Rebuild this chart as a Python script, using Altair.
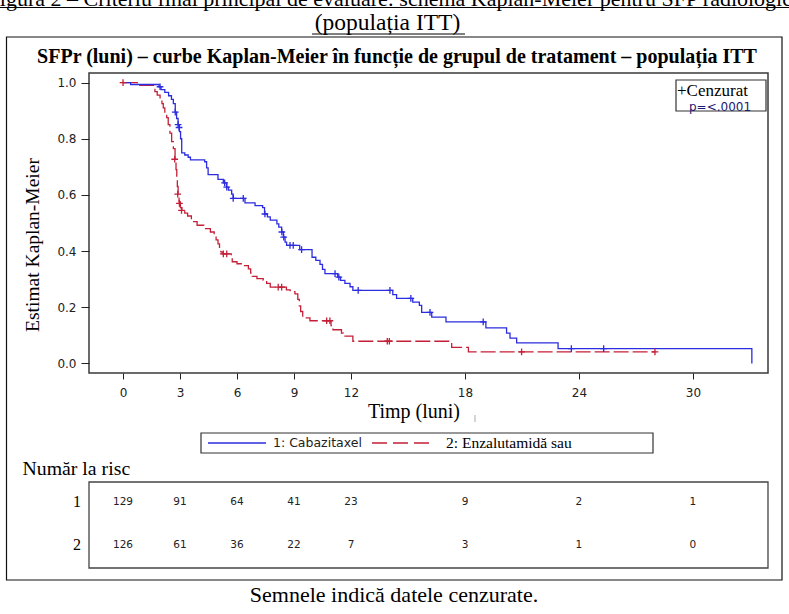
import altair as alt
import pandas as pd

# ---------------- data ----------------
blue_t = [0, 0.4, 1.9, 2.0, 2.2, 2.4, 2.55, 2.65, 2.75, 2.82, 2.9, 2.97, 3.03, 3.09, 3.25, 3.43, 3.55, 4.3, 4.4, 4.48,
          5.0, 5.28, 5.45, 5.55, 5.72, 5.8, 6.42, 6.95, 7.35, 7.45, 7.6, 7.75, 8.1, 8.2, 8.35, 8.44, 8.53, 8.61, 9.3, 9.95,
          10.15, 10.37, 10.5, 10.63, 11.3, 11.45, 11.68, 11.95, 12.1, 14.2, 14.4, 15.25, 15.6, 15.72, 16.25, 17.0, 19.1,
          20.19, 20.37, 20.72, 22.9, 33.1]
blue_s = [1.0, 0.993, 0.985, 0.975, 0.965, 0.953, 0.94, 0.925, 0.895, 0.872, 0.85, 0.825, 0.80, 0.75, 0.742, 0.734, 0.725,
          0.718, 0.696, 0.672, 0.655, 0.643, 0.628, 0.617, 0.603, 0.588, 0.572, 0.562, 0.555, 0.532, 0.522, 0.51, 0.497,
          0.485, 0.468, 0.45, 0.432, 0.42, 0.405, 0.378, 0.367, 0.353, 0.335, 0.32, 0.307, 0.296, 0.285, 0.273, 0.26,
          0.245, 0.232, 0.218, 0.207, 0.182, 0.165, 0.148, 0.127, 0.108, 0.09, 0.073, 0.053, 0.0]
blue_cens_t = [1.95, 2.75, 2.9, 2.95, 5.35, 5.46, 5.8, 6.33, 7.47, 8.36, 8.46, 8.79, 8.96, 9.4, 11.16, 11.36, 12.38,
               14.05, 15.15, 16.16, 18.96, 23.6, 25.3]
blue_cens_s = [0.985, 0.895, 0.85, 0.84, 0.643, 0.628, 0.588, 0.588, 0.532, 0.468, 0.45, 0.42, 0.42, 0.405, 0.32, 0.307,
               0.26, 0.26, 0.232, 0.182, 0.148, 0.053, 0.053]

red_t = [0, 0.85, 1.68, 1.8, 1.95, 2.05, 2.12, 2.2, 2.3, 2.38, 2.47, 2.56, 2.65, 2.74, 2.79, 2.83, 2.86, 2.9, 2.95, 3.02,
         3.1, 3.25, 3.4, 3.6, 3.9, 4.25, 4.6, 4.8, 4.9, 5.0, 5.08, 5.15, 5.22, 5.7, 5.75, 6.0, 6.35, 6.6, 6.72, 6.8,
         7.05, 7.38, 7.56, 7.75, 8.6, 8.8, 9.05, 9.2, 9.28, 9.35, 9.46, 9.84, 10.95, 11.05, 11.5, 11.6, 12.1, 17.3,
         18.18, 28.0]
red_s = [1.0, 0.99, 0.968, 0.955, 0.94, 0.925, 0.91, 0.895, 0.875, 0.85, 0.82, 0.79, 0.765, 0.725, 0.69, 0.66, 0.63,
         0.6, 0.575, 0.555, 0.542, 0.535, 0.525, 0.505, 0.492, 0.48, 0.468, 0.455, 0.44, 0.426, 0.41, 0.397, 0.39,
         0.375, 0.362, 0.355, 0.348, 0.337, 0.322, 0.31, 0.302, 0.296, 0.285, 0.272, 0.262, 0.256, 0.248, 0.228,
         0.205, 0.185, 0.162, 0.152, 0.135, 0.12, 0.108, 0.097, 0.079, 0.057, 0.041, 0.041]
red_cens_t = [0.0, 2.72, 2.88, 2.97, 3.08, 5.28, 5.46, 8.17, 8.35, 10.72, 10.89, 13.91, 14.02, 20.98, 28.0]
red_cens_s = [1.0, 0.727, 0.603, 0.57, 0.545, 0.39, 0.39, 0.272, 0.272, 0.152, 0.152, 0.079, 0.079, 0.041, 0.041]

risk_times = [0, 3, 6, 9, 12, 18, 24, 30]
risk_1 = [129, 91, 64, 41, 23, 9, 2, 1]
risk_2 = [126, 61, 36, 22, 7, 3, 1, 0]

x_ticks = [0, 3, 6, 9, 12, 18, 24, 30]
y_ticks = [0.0, 0.2, 0.4, 0.6, 0.8, 1.0]

# ---------------- styles ----------------
BLUE = "#2c2ce0"
RED = "#c41f36"
SERIF = "Liberation Serif"
SANS = "DejaVu Sans"

W, H = 679, 300
PAD = {"left": 89, "top": 73, "right": 21, "bottom": 241}

xs = alt.Scale(domain=[-1.79, 33.95], nice=False, zero=False)
ys = alt.Scale(domain=[-0.034, 1.034], nice=False, zero=False)

xa = alt.Axis(values=x_ticks, domain=False, grid=False, tickSize=6, tickColor="#222", tickWidth=1,
              labelFont=SANS, labelFontSize=12, labelColor="#222", labelPadding=8,
              labelFlush=False, labelOverlap=False)
ya = alt.Axis(values=y_ticks, format=".1f", domain=False, grid=False, tickSize=8, tickColor="#222",
              tickWidth=1, labelFont=SANS, labelFontSize=12, labelColor="#222", labelPadding=5,
              labelOverlap=False)

blue_df = pd.DataFrame({"t": blue_t, "s": blue_s})
red_df = pd.DataFrame({"t": red_t, "s": red_s})
bc_df = pd.DataFrame({"t": blue_cens_t, "s": blue_cens_s})
rc_df = pd.DataFrame({"t": red_cens_t, "s": red_cens_s})
risk_df = pd.DataFrame({"t": risk_times, "n1": risk_1, "n2": risk_2})
one = pd.DataFrame({"a": [0]})

X = alt.X("t:Q", scale=xs, axis=xa, title=None)
Y = alt.Y("s:Q", scale=ys, axis=ya, title=None)

red_line = alt.Chart(red_df).mark_line(interpolate="step-after", color=RED, strokeWidth=1.3,
                                       strokeDash=[15, 4]).encode(x=X, y=Y)
blue_line = alt.Chart(blue_df).mark_line(interpolate="step-after", color=BLUE, strokeWidth=1.3).encode(x=X, y=Y)

PLUS = "M-1,0L1,0M0,-1L0,1"
red_c = alt.Chart(rc_df).mark_point(shape=PLUS, size=45, filled=False, color=RED, strokeWidth=1.3,
                                    opacity=1).encode(x=X, y=Y)
blue_c = alt.Chart(bc_df).mark_point(shape=PLUS, size=45, filled=False, color=BLUE, strokeWidth=1.3,
                                     opacity=1).encode(x=X, y=Y)

risk_row1 = alt.Chart(risk_df).mark_text(font=SANS, fontSize=10.5, color="#222", baseline="middle").encode(
    x=alt.X("t:Q", scale=xs, axis=xa, title=None), y=alt.value(429), text="n1:Q")
risk_row2 = alt.Chart(risk_df).mark_text(font=SANS, fontSize=10.5, color="#222", baseline="middle").encode(
    x=alt.X("t:Q", scale=xs, axis=xa, title=None), y=alt.value(472), text="n2:Q")


def txt(s, x, y, size, font=SERIF, align="center", baseline="alphabetic", weight="normal",
        color="black", angle=0):
    return alt.Chart(one).mark_text(text=s, font=font, fontSize=size, align=align, baseline=baseline,
                                    fontWeight=weight, color=color, angle=angle).encode(
        x=alt.value(x), y=alt.value(y))


def rule(x1, x2, y1, y2, color="black", width=1.0, dash=None):
    kw = dict(color=color, strokeWidth=width)
    if dash:
        kw["strokeDash"] = dash
    return alt.Chart(one).mark_rule(**kw).encode(x=alt.value(x1), x2=alt.value(x2),
                                                  y=alt.value(y1), y2=alt.value(y2))


def box(x1, x2, y1, y2, color="black", width=1.0):
    return alt.Chart(one).mark_rect(fillOpacity=0, stroke=color, strokeWidth=width).encode(
        x=alt.value(x1), x2=alt.value(x2), y=alt.value(y1), y2=alt.value(y2))


layers = [
    # page header (cut off at top)
    txt("Figura 2 – Criteriu final principal de evaluare: schema Kaplan-Meier pentru SFP radiologic",
        703, -67.5, 22, align="right"),
    rule(-89, 700, -65.5, -65.5),
    txt("(populația ITT)", 298.5, -43.5, 23.5),
    rule(223, 376, -39, -39),
    # outer border
    box(-82.5, 693, -36, 507, color="#111", width=1.2),
    # chart title
    txt("SFPr (luni) – curbe Kaplan-Meier în funcție de grupul de tratament – populația ITT",
        308, -16, 20, weight="bold", baseline="middle"),
    # curves
    red_line, blue_line, red_c, blue_c,
    # censor legend inside
    box(587, 677, 7, 38, color="#333", width=1.2),
    txt("+Cenzurat", 588, 17.5, 17, align="left", baseline="middle"),
    txt("p=<.0001", 631, 33.5, 12, font=SANS, baseline="middle", color="#1a1a70"),
    # axis titles
    txt("Estimat Kaplan-Meier", -56, 172, 19.5, angle=270, baseline="middle"),
    txt("Timp (luni)", 325, 345, 20),
    rule(386, 386, 342, 349, color="#aaa", width=1),
    # bottom legend
    box(112, 564, 360, 380, color="#333", width=1.2),
    rule(119, 177, 370, 370, color=BLUE, width=1.3),
    txt("1: Cabazitaxel", 184, 370, 12.5, font=SANS, align="left", baseline="middle", color="#222"),
    rule(283, 343, 370, 370, color=RED, width=1.3, dash=[15, 6]),
    txt("2: Enzalutamidă sau", 357, 370, 15.5, align="left", baseline="middle"),
    # number at risk
    txt("Număr la risc", -66.5, 402, 19.8, align="left"),
    box(0, 679, 409, 495, color="#444", width=1.3),
    txt("1", -8, 429, 16, align="right", baseline="middle"),
    txt("2", -8, 472, 16, align="right", baseline="middle"),
    risk_row1, risk_row2,
    # caption
    txt("Semnele indică datele cenzurate.", 305, 529, 22),
]

chart = alt.layer(*layers).properties(
    width=W, height=H, padding=PAD, autosize=alt.AutoSizeParams(type="none"), background="white"
).configure_view(stroke="#3a3a3a", strokeWidth=1.5)

chart.save("out.html", embed_options={"renderer": "svg", "actions": False})
